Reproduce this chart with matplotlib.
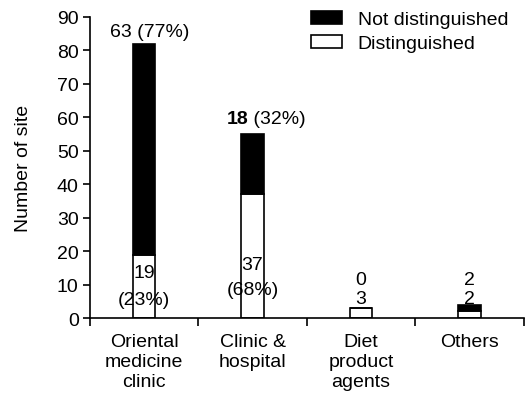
import matplotlib
matplotlib.use('Agg')
import matplotlib.pyplot as plt
import numpy as np

plt.rcParams['font.family'] = ['Liberation Sans', 'DejaVu Sans']

# data
categories = ['Oriental\nmedicine\nclinic', 'Clinic &\nhospital', 'Diet\nproduct\nagents', 'Others']
distinguished = [19, 37, 3, 2]
not_distinguished = [63, 18, 0, 2]
pct_dist = ['23%', '68%', None, None]
pct_not = ['77%', '32%', None, None]

x = np.arange(len(categories))
w = 0.21

fig = plt.figure(figsize=(5.28, 4.06), dpi=100)
ax = fig.add_axes([0.170, 0.214, 0.822, 0.742])

ax.bar(x, distinguished, w, color='white', edgecolor='black', linewidth=1.2,
       label='Distinguished')
ax.bar(x, not_distinguished, w, bottom=distinguished, color='black',
       edgecolor='black', linewidth=1.2, label='Not distinguished')

fs = 14
# labels on top of the first two bars
tot0 = distinguished[0] + not_distinguished[0]
ax.text(x[0] + 0.05, tot0 + 1.0, '%d (%s)' % (not_distinguished[0], pct_not[0]),
        ha='center', va='bottom', fontsize=fs)
tot1 = distinguished[1] + not_distinguished[1]
ax.text(x[1] - 0.04, tot1 + 2.2, '%d' % not_distinguished[1], ha='right',
        va='bottom', fontsize=fs, fontweight='bold')
ax.text(x[1] - 0.04, tot1 + 2.2, ' (%s)' % pct_not[1], ha='left',
        va='bottom', fontsize=fs)

# labels inside the white parts
ax.text(x[0], 13.5, '%d' % distinguished[0], ha='center', va='center', fontsize=fs)
ax.text(x[0], 5.7, '(%s)' % pct_dist[0], ha='center', va='center', fontsize=fs)
ax.text(x[1], 16.1, '%d' % distinguished[1], ha='center', va='center', fontsize=fs)
ax.text(x[1], 8.4, '(%s)' % pct_dist[1], ha='center', va='center', fontsize=fs)

# small bars: two numbers stacked above
for i in [2, 3]:
    ax.text(x[i], 11.5, '%d' % not_distinguished[i], ha='center', va='center', fontsize=fs)
    ax.text(x[i], 5.8, '%d' % distinguished[i], ha='center', va='center', fontsize=fs)

ax.set_xlim(-0.5, 3.5)
ax.set_ylim(0, 90)
ax.set_yticks(np.arange(0, 91, 10))
ax.set_xticks(np.arange(-0.5, 3.6, 1))
ax.set_xticklabels([])
ax.set_xticks(x, minor=True)
ax.set_xticklabels(categories, minor=True, fontsize=fs, va='top')
ax.tick_params(axis='x', which='minor', length=0, pad=11)
ax.tick_params(axis='x', which='major', length=6, width=1.2)
ax.tick_params(axis='y', length=5, width=1.2, labelsize=fs, pad=3)
ax.spines['top'].set_visible(False)
ax.spines['right'].set_visible(False)
ax.spines['left'].set_linewidth(1.2)
ax.spines['bottom'].set_linewidth(1.2)
ax.set_ylabel('Number of site', fontsize=fs, labelpad=18)

h, l = ax.get_legend_handles_labels()
ax.legend(h[::-1], l[::-1], loc='upper left', bbox_to_anchor=(0.51, 1.02),
          frameon=False, fontsize=fs, handlelength=1.6, handleheight=0.65,
          labelspacing=0.35, handletextpad=0.8, borderpad=0, borderaxespad=0)

fig.savefig('out.png', dpi=100)
